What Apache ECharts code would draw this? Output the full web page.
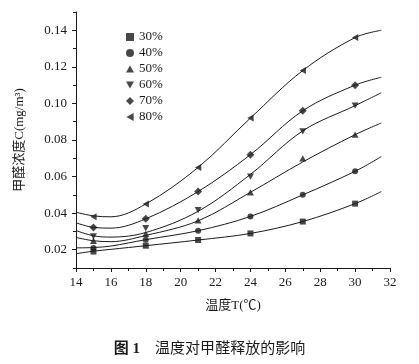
<!DOCTYPE html>
<html>
<head>
<meta charset="utf-8">
<script src="https://cdn.jsdelivr.net/npm/echarts@6/dist/echarts.min.js"></script>
<style>
html,body{margin:0;padding:0;background:#fff;}
#chart{width:419px;height:364px;}
</style>
</head>
<body>
<div id="chart"></div>
<script>
// ---- data ----
const seriesNames = ['30%', '40%', '50%', '60%', '70%', '80%'];
const markerTemps = [15, 18, 21, 24, 27, 30];
const marker30 = [0.0190, 0.0222, 0.0253, 0.0289, 0.0354, 0.0452];
const marker40 = [0.0210, 0.0255, 0.0304, 0.0382, 0.0500, 0.0629];
const marker50 = [0.0249, 0.0287, 0.0360, 0.0514, 0.0700, 0.0829];
const marker60 = [0.0273, 0.0318, 0.0416, 0.0600, 0.0847, 0.0988];
const marker70 = [0.0322, 0.0370, 0.0518, 0.0720, 0.0960, 0.1100];
const marker80 = [0.0380, 0.0450, 0.0649, 0.0920, 0.1180, 0.1360];

// fitted curves
const curveTemps = [14, 15, 16, 18, 21, 24, 27, 30, 31.5];
const curve30 = [0.0178, 0.0192, 0.0202, 0.0222, 0.0253, 0.0289, 0.0354, 0.0452, 0.0518];
const curve40 = [0.0210, 0.0212, 0.0220, 0.0255, 0.0304, 0.0382, 0.0500, 0.0629, 0.0709];
const curve50 = [0.0267, 0.0249, 0.0244, 0.0278, 0.0358, 0.0514, 0.0680, 0.0829, 0.0893];
const curve60 = [0.0305, 0.0276, 0.0269, 0.0294, 0.0410, 0.0612, 0.0850, 0.0988, 0.1058];
const curve70 = [0.0347, 0.0322, 0.0318, 0.0369, 0.0518, 0.0720, 0.0960, 0.1100, 0.1143];
const curve80 = [0.0405, 0.0385, 0.0380, 0.0450, 0.0650, 0.0920, 0.1180, 0.1360, 0.1400];

const yLabelTicks = [0.02, 0.04, 0.06, 0.08, 0.10, 0.12, 0.14];
const yMinorTicks = [0.01, 0.03, 0.05, 0.07, 0.09, 0.11, 0.13, 0.15];

const markerSets = [marker30, marker40, marker50, marker60, marker70, marker80];
const curveSets = [curve30, curve40, curve50, curve60, curve70, curve80];
const symbols = [
  'rect',
  'circle',
  'path://M5,0 L10,9 L0,9 Z',
  'path://M0,0 L10,0 L5,9 Z',
  'diamond',
  'path://M0,5 L9,0 L9,10 Z'
];
const sizes = [6, 6, 7, 7, 8, 7];

const FONT = '"Liberation Serif", "Noto Sans CJK SC", serif';
const INK = '#1a1a1a';

const series = [];
curveSets.forEach((c, i) => {
  series.push({
    name: 'curve' + i,
    type: 'line',
    data: curveTemps.map((t, k) => [t, c[k]]),
    smooth: 0.35,
    showSymbol: false,
    symbol: 'none',
    lineStyle: { color: INK, width: 1 },
    silent: true,
    z: 2
  });
});
markerSets.forEach((m, i) => {
  series.push({
    name: seriesNames[i],
    type: 'scatter',
    data: markerTemps.map((t, k) => [t, m[k]]),
    symbol: symbols[i],
    symbolKeepAspect: true,
    symbolSize: sizes[i],
    itemStyle: { color: INK },
    z: 3
  });
});

const chart = echarts.init(document.getElementById('chart'), null, { renderer: 'canvas' });
chart.setOption({
  backgroundColor: '#fff',
  animation: false,
  textStyle: { fontFamily: FONT },
  title: {
    text: '{b|图 1}　温度对甲醛释放的影响',
    left: 'center',
    top: 337,
    textStyle: {
      fontFamily: FONT, fontSize: 15, fontWeight: 'normal', color: INK,
      rich: { b: { fontFamily: FONT, fontSize: 15, fontWeight: 'bold', color: INK } }
    }
  },
  legend: {
    orient: 'vertical',
    left: 121,
    top: 25,
    data: seriesNames,
    itemWidth: 8,
    itemHeight: 8,
    itemGap: 2,
    textStyle: { fontFamily: FONT, fontSize: 13, color: INK, lineHeight: 14 },
    selectedMode: false
  },
  grid: { left: 76, right: 29, top: 12, bottom: 96, containLabel: false },
  xAxis: {
    type: 'value',
    min: 14, max: 32, interval: 2,
    name: '温度T(℃)',
    nameLocation: 'middle',
    nameGap: 31,
    nameTextStyle: { fontFamily: FONT, fontSize: 13, color: INK },
    axisLine: { show: true, lineStyle: { color: INK, width: 1 } },
    axisTick: { show: true, inside: false, length: 4, lineStyle: { color: INK } },
    minorTick: { show: true, splitNumber: 2, length: 3, lineStyle: { color: INK } },
    axisLabel: { fontFamily: FONT, fontSize: 13, color: INK, margin: 8 },
    splitLine: { show: false }
  },
  yAxis: [{
    type: 'value',
    min: 0.01, max: 0.15, interval: 0.01,
    name: '甲醛浓度C(mg/m³)',
    nameLocation: 'middle',
    nameRotate: 90,
    nameGap: 50,
    nameTextStyle: { fontFamily: FONT, fontSize: 13, color: INK },
    axisLine: { show: true, lineStyle: { color: INK, width: 1 } },
    axisTick: { show: true, inside: false, length: 4, customValues: yLabelTicks, lineStyle: { color: INK } },
    axisLabel: {
      fontFamily: FONT, fontSize: 13, color: INK, margin: 9,
      customValues: yLabelTicks,
      formatter: v => v.toFixed(2)
    },
    splitLine: { show: false }
  }, {
    type: 'value',
    position: 'left',
    min: 0.01, max: 0.15, interval: 0.01,
    axisLine: { show: false },
    axisTick: { show: true, inside: false, length: 3, customValues: yMinorTicks, lineStyle: { color: INK } },
    axisLabel: { show: false },
    splitLine: { show: false }
  }],
  series: series
});
</script>
</body>
</html>
